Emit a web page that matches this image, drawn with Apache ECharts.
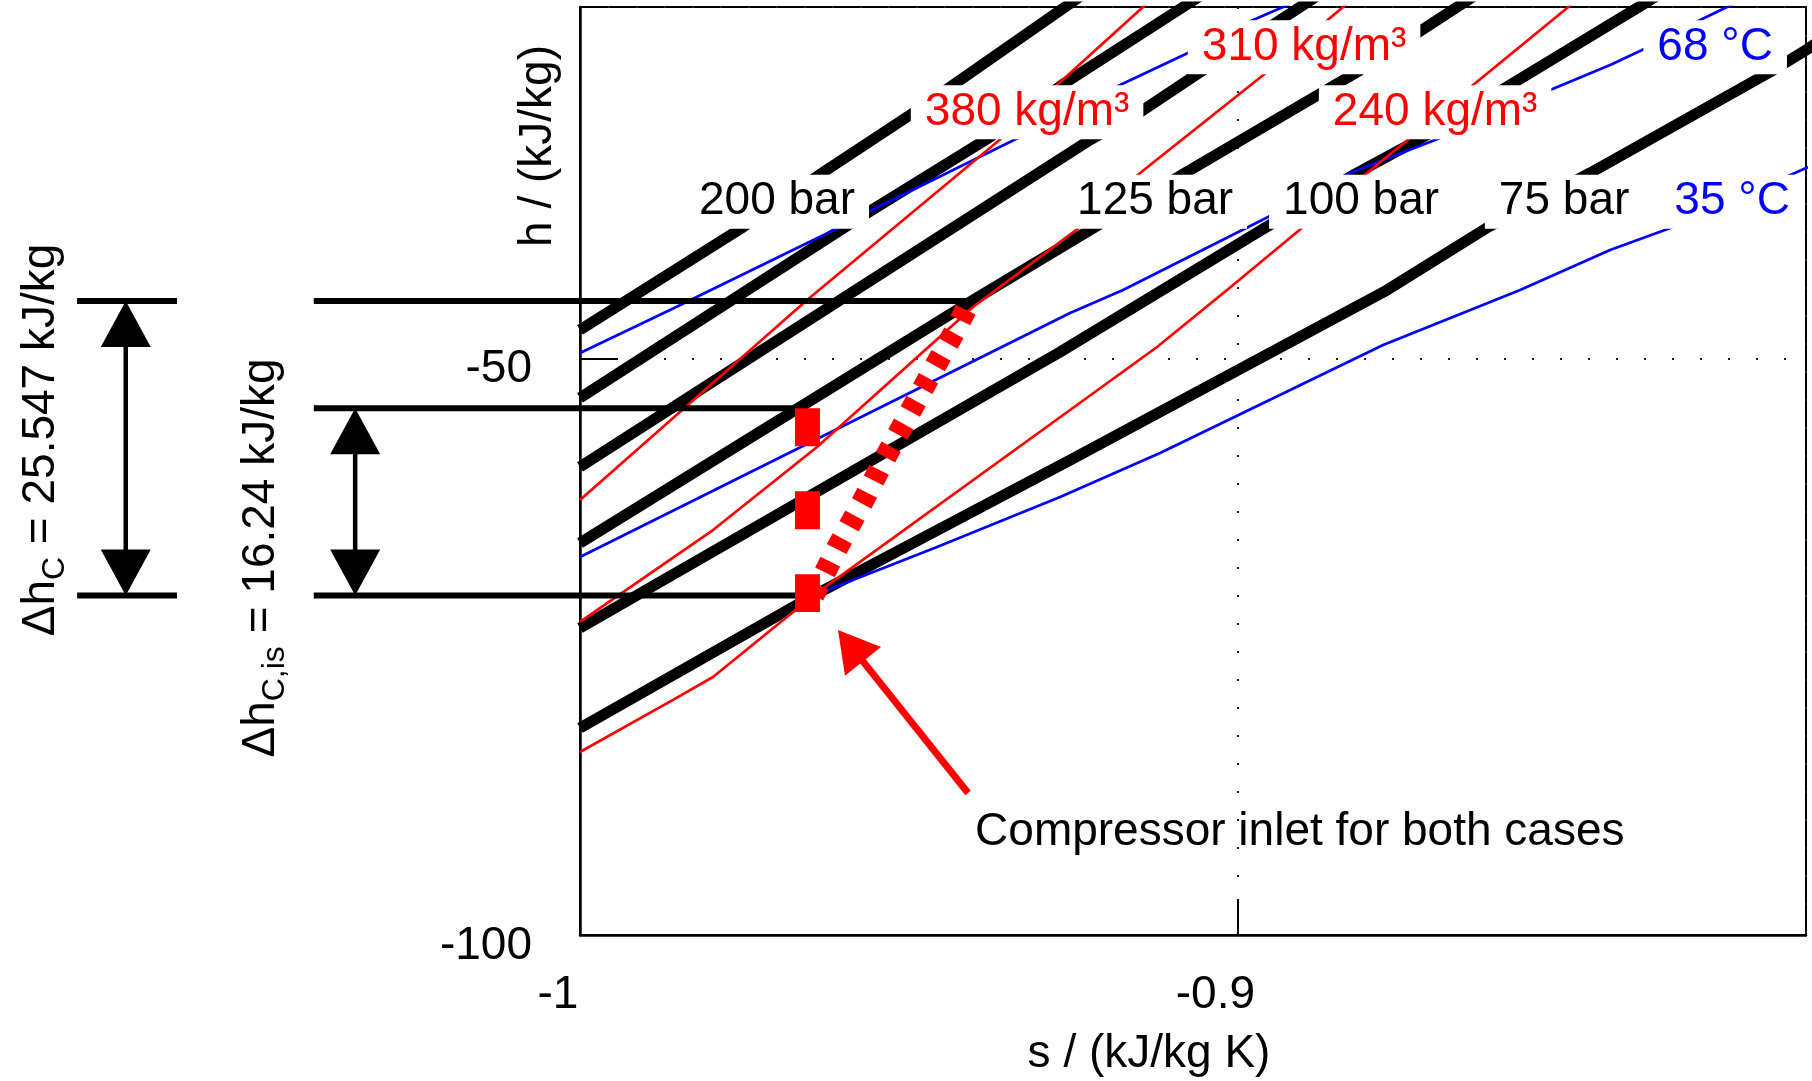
<!DOCTYPE html>
<html><head><meta charset="utf-8">
<script src="https://cdn.jsdelivr.net/npm/echarts@6/dist/echarts.min.js"></script>
<style>html,body{margin:0;padding:0;background:#fff}#c{width:1812px;height:1081px}</style>
</head><body><div id="c"></div>
<script>
// ---- axis ranges / ticks ----
const sMin = -1, sMax = -0.8135, sTickStep = 0.1;
const hMin = -100, hMax = -19.54, hTickStep = 50;

// ---- isobars (s, h) ----
const isobar200 = [[-1,-47.54],[-0.9752,-38.62],[-0.96318,-33.93],[-0.94934,-28.73],[-0.94325,-26.30],[-0.92621,-19.54],[-0.92233,-18]];
const isobar175 = [[-1,-53.44],[-0.95968,-38.62],[-0.95558,-37.14],[-0.93762,-30.81],[-0.92667,-26.30],[-0.90826,-19.54],[-0.90406,-18]];
const isobar150 = [[-1,-59.42],[-0.96044,-44.95],[-0.92241,-31.07],[-0.9148,-28.65],[-0.90567,-25.18],[-0.8935,-20.67],[-0.8863,-18]];
const isobar125 = [[-1,-66.01],[-0.94067,-45.12],[-0.92165,-38.62],[-0.90796,-33.93],[-0.88179,-25.18],[-0.87266,-21.80],[-0.8624,-18]];
const isobar100 = [[-1,-73.38],[-0.92697,-49.45],[-0.89609,-38.79],[-0.88209,-34.02],[-0.87114,-30.64],[-0.85927,-26.56],[-0.83919,-19.63],[-0.8345,-18]];
const isobar75  = [[-1,-82.05],[-0.9645,-70.57],[-0.92545,-58.82],[-0.87723,-44.08],[-0.86186,-38.62],[-0.84634,-33.93],[-0.81896,-25.18],[-0.81348,-23.27],[-0.81,-21.9]];

// ---- isotherms ----
const isothermTop = [[-1,-49.54],[-0.98631,-45.81],[-0.96044,-38.62],[-0.95558,-37.14],[-0.93306,-30.81],[-0.91785,-26.30],[-0.9072,-23.44],[-0.89761,-20.67],[-0.89305,-19.54],[-0.8868,-18]];
const isotherm68 = [[-1,-67.23],[-0.92545,-46.07],[-0.91739,-44.08],[-0.89533,-37.75],[-0.88285,-33.93],[-0.86916,-30.90],[-0.85242,-26.74],[-0.8433,-24.57],[-0.83843,-23.27],[-0.82961,-20.67],[-0.8255,-19.54],[-0.8201,-18]];
const isotherm35 = [[-0.9645,-70.57],[-0.94569,-66.36],[-0.92697,-62.02],[-0.91176,-58.21],[-0.87783,-48.85],[-0.85699,-44.08],[-0.8433,-40.61],[-0.83371,-38.62],[-0.81348,-33.50],[-0.81,-32.6]];

// ---- isochores ----
const isochore380 = [[-1,-62.29],[-0.96546,-44.95],[-0.93565,-30.81],[-0.92743,-26.30],[-0.92241,-23.70],[-0.91435,-19.54],[-0.91137,-18]];
const isochore310 = [[-1,-72.86],[-0.97977,-64.89],[-0.96394,-57.69],[-0.94021,-45.55],[-0.92393,-38.62],[-0.9148,-33.93],[-0.89548,-25.18],[-0.8859,-20.49],[-0.88392,-19.54],[-0.8808,-18]];
const isochore240 = [[-1,-84.13],[-0.98585,-79.62],[-0.97977,-77.63],[-0.9645,-70.57],[-0.92545,-54.48],[-0.91222,-49.02],[-0.90157,-44.08],[-0.89,-38.62],[-0.88027,-33.93],[-0.87373,-30.90],[-0.86414,-26.30],[-0.84984,-19.63],[-0.8476,-18.5]];

// ---- compression ----
const hInlet = -70.57, deltaHis = 16.24, deltaH = 25.547;
const hIsOutlet = hInlet + deltaHis, hOutlet = hInlet + deltaH;
const sInlet = -0.9645, sIsentropic = -0.9654, sOutlet = -0.94067;
const compressionPath = [[sInlet,hInlet],[-0.9609,-66.45],[-0.9571,-62.55],[-0.9536,-58.64],[-0.94979,-54.66],[-0.9463,-51.01],[-0.94264,-47.29],[sOutlet,hOutlet]];
const isentropicPath = [[sIsentropic,hIsOutlet],[sIsentropic,-72.0]];

// ---- annotation (left of plot) ----
const sLevelStart = -1.0405, sShortStart = -1.0765, sShortEnd = -1.0613;
const sArrowC = -1.0691, sArrowCis = -1.0342;
const levelLines = [
  [sLevelStart,hOutlet,sOutlet,hOutlet],
  [sLevelStart,hIsOutlet,-0.96653,hIsOutlet],
  [sLevelStart,hInlet,-0.9647,hInlet],
  [sShortStart,hOutlet,sShortEnd,hOutlet],
  [sShortStart,hInlet,sShortEnd,hInlet]
];
const arrowC = [sArrowC,hInlet,sArrowC,hOutlet];
const arrowCis = [sArrowCis,hInlet,sArrowCis,hIsOutlet];
const arrowInlet = [-0.94097,-87.69,-0.96075,-73.56];

// ---- labels ----
const barLabels = ['200 bar','125 bar','100 bar','75 bar'];
const barLabelS = [-0.97003,-0.91252,-0.88118,-0.8503];
const barLabelH = [-36.42,-36.42,-36.42,-36.42];
const densLabels = ['380 kg/m³','310 kg/m³','240 kg/m³'];
const densLabelS = [-0.93199,-0.88985,-0.86992];
const densLabelH = [-28.66,-23.02,-28.66];
const tempLabels = ['68 °C','35 °C'];
const tempLabelS = [-0.82732,-0.82474];
const tempLabelH = [-23.02,-36.42];
const noteText = 'Compressor inlet for both cases';
const notePos = [-0.9399,-91.1];

const FF = '"Liberation Sans", Arial, Helvetica, sans-serif';
const chart = echarts.init(document.getElementById('c'), null, {renderer:'canvas'});

function lineSeries(data, color, width, z, extra) {
  return Object.assign({type:'line', data, showSymbol:false, symbol:'none', silent:true,
    lineStyle:{color, width, cap:'butt', join:'round', opacity:1}, z, animation:false}, extra||{});
}
function segmentRender(width, color) {
  return function(params, api) {
    const a = api.coord([api.value(0), api.value(1)]);
    const b = api.coord([api.value(2), api.value(3)]);
    return {type:'line', shape:{x1:a[0],y1:a[1],x2:b[0],y2:b[1]}, style:{stroke:color, lineWidth:width}};
  };
}
function arrowRender(headLen, headW, shaftW, color, both) {
  return function(params, api) {
    const a = api.coord([api.value(0), api.value(1)]);
    const b = api.coord([api.value(2), api.value(3)]);
    const dx=b[0]-a[0], dy=b[1]-a[1], L=Math.hypot(dx,dy);
    const ux=dx/L, uy=dy/L, nx=-uy, ny=ux;
    const head = (tip, dir) => {
      const bx = tip[0]-dir*ux*headLen, by = tip[1]-dir*uy*headLen;
      return {type:'polygon', shape:{points:[[tip[0],tip[1]],[bx+nx*headW/2,by+ny*headW/2],[bx-nx*headW/2,by-ny*headW/2]]}, style:{fill:color}};
    };
    const s0 = both ? [a[0]+ux*headLen*0.6, a[1]+uy*headLen*0.6] : a;
    const s1 = [b[0]-ux*headLen*0.6, b[1]-uy*headLen*0.6];
    const children = [{type:'line', shape:{x1:s0[0],y1:s0[1],x2:s1[0],y2:s1[1]}, style:{stroke:color, lineWidth:shaftW}}, head(b,1)];
    if (both) children.push(head(a,-1));
    return {type:'group', children};
  };
}
function labelSeries(names, ss, hs, color) {
  return {type:'scatter', symbolSize:0, silent:true, z:10, clip:false,
    itemStyle:{opacity:1},
    data: names.map((n,i)=>({name:n, value:[ss[i],hs[i]]})),
    label:{show:true, position:'inside', formatter:'{b}', color, opacity:1, fontSize:46, fontFamily:FF,
      textBorderWidth:0, lineHeight:44, backgroundColor:'#ffffff', padding:[4,14,6,14]}};
}

const series = [];
[isobar200,isobar175,isobar150,isobar125,isobar100,isobar75].forEach(d=>series.push(lineSeries(d,'#000',11,2)));
[isothermTop,isotherm68,isotherm35].forEach(d=>series.push(lineSeries(d,'#0000ff',2.7,3)));
[isochore380,isochore310,isochore240].forEach(d=>series.push(lineSeries(d,'#ff0000',2.7,3)));
series.push({type:'custom', coordinateSystem:'cartesian2d', clip:false, silent:true, z:4, renderItem:segmentRender(6,'#000'), data:levelLines, encode:{x:[0,2], y:[1,3]}});
series.push(lineSeries(isentropicPath,'#ff0000',25,5,{lineStyle:{color:'#ff0000',width:25,type:[38,45],cap:'butt'}}));
series.push(lineSeries(compressionPath,'#ff0000',22,5,{lineStyle:{color:'#ff0000',width:22,type:[12,14],cap:'butt'}}));
series.push({type:'custom', coordinateSystem:'cartesian2d', clip:false, silent:true, z:6, renderItem:arrowRender(46,50,4.5,'#000',true), data:[arrowC, arrowCis], encode:{x:[0,2], y:[1,3]}});
series.push({type:'custom', coordinateSystem:'cartesian2d', clip:false, silent:true, z:6, renderItem:arrowRender(40,46,7,'#ff0000',false), data:[arrowInlet], encode:{x:[0,2], y:[1,3]}});
series.push(labelSeries(barLabels,barLabelS,barLabelH,'#000000'));
series.push(labelSeries(densLabels,densLabelS,densLabelH,'#ff0000'));
series.push(labelSeries(tempLabels,tempLabelS,tempLabelH,'#0000ff'));
series.push({type:'scatter', symbolSize:0, silent:true, z:10, clip:false, itemStyle:{opacity:1},
  data:[{name:noteText, value:notePos}],
  label:{show:true, position:'inside', align:'left', formatter:'{b}', color:'#000000', opacity:1, textBorderWidth:0, fontSize:46, fontFamily:FF}});

const fmt = v => String(+(+v).toFixed(3));
const option = {
  animation:false,
  backgroundColor:'#fff',
  textStyle:{fontFamily:FF},
  grid:{left:580, right:6, top:7, bottom:146, show:true, borderColor:'#000', borderWidth:2},
  xAxis:{type:'value', min:sMin, max:sMax, interval:sTickStep,
    axisLine:{show:true, onZero:false, lineStyle:{color:'#000', width:2.5}},
    axisTick:{show:true, inside:true, length:36, lineStyle:{color:'#000', width:2}},
    axisLabel:{show:true, showMinLabel:true, showMaxLabel:false, margin:37, fontSize:46, lineHeight:46, color:'#000', fontFamily:FF, padding:[0,44,0,0], formatter:fmt},
    splitLine:{show:true, lineStyle:{color:'#222', width:2, type:[2,26]}}},
  yAxis:{type:'value', min:hMin, max:hMax, interval:hTickStep,
    axisLine:{show:true, onZero:false, lineStyle:{color:'#000', width:2.5}},
    axisTick:{show:true, inside:true, length:38, lineStyle:{color:'#000', width:2}},
    axisLabel:{show:true, showMinLabel:true, showMaxLabel:false, margin:48, fontSize:46, lineHeight:22, verticalAlign:'top', color:'#000', fontFamily:FF, formatter:fmt},
    splitLine:{show:true, lineStyle:{color:'#222', width:2, type:[2,26]}}},
  graphic:[
    {type:'text', x:538, y:146, rotation:Math.PI/2, z:20, style:{text:'h / (kJ/kg)', fill:'#000', fontSize:46, fontFamily:FF, align:'center', verticalAlign:'middle', textAlign:'center', textVerticalAlign:'middle'}},
    {type:'text', x:1149, y:1054, z:20, style:{text:'s / (kJ/kg K)', fill:'#000', fontSize:46, fontFamily:FF, align:'center', verticalAlign:'middle', textAlign:'center', textVerticalAlign:'middle'}},
    {type:'text', x:41, y:440, rotation:Math.PI/2, z:20, style:{text:'{m|Δh}{s|C}{m| = 25.547 kJ/kg}', fill:'#000', fontFamily:FF, align:'center', verticalAlign:'middle', textAlign:'center', textVerticalAlign:'middle',
      rich:{m:{fontSize:46, lineHeight:60, fontFamily:FF, fill:'#000', color:'#000'}, s:{fontSize:32, lineHeight:32, verticalAlign:'bottom', fontFamily:FF, fill:'#000', color:'#000'}}}},
    {type:'text', x:261, y:558, rotation:Math.PI/2, z:20, style:{text:'{m|Δh}{s|C,is}{m| = 16.24 kJ/kg}', fill:'#000', fontFamily:FF, align:'center', verticalAlign:'middle', textAlign:'center', textVerticalAlign:'middle',
      rich:{m:{fontSize:46, lineHeight:60, fontFamily:FF, fill:'#000', color:'#000'}, s:{fontSize:32, lineHeight:32, verticalAlign:'bottom', fontFamily:FF, fill:'#000', color:'#000'}}}}
  ],
  series
};
chart.setOption(option);
</script></body></html>
